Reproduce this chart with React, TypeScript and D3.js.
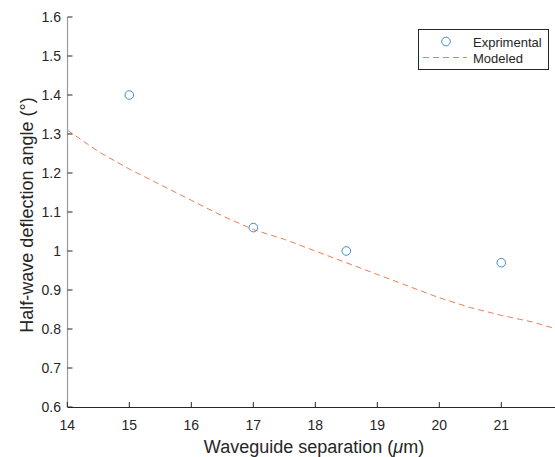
import React from "react";
import * as d3 from "d3";

const expX = [15, 17, 18.5, 21];
const expY = [1.4, 1.06, 1.0, 0.97];
const modX = [14, 14.5, 15, 15.5, 16, 16.5, 17, 17.5, 18, 18.5, 19, 19.5, 20, 20.5, 21, 21.5, 22];
const modY = [1.31, 1.255, 1.21, 1.17, 1.13, 1.09, 1.055, 1.03, 1.0, 0.97, 0.94, 0.91, 0.88, 0.855, 0.835, 0.818, 0.795];
const xTicks = [14, 15, 16, 17, 18, 19, 20, 21];
const yTicks = [0.6, 0.7, 0.8, 0.9, 1, 1.1, 1.2, 1.3, 1.4, 1.5, 1.6];

export default function App() {
  const x = d3.scaleLinear().domain([14, 22]).range([67.3, 563.3]);
  const y = d3.scaleLinear().domain([0.6, 1.6]).range([407, 17]);
  const line = d3.line<number>().x((_, i) => x(modX[i])).y((d) => y(d));
  const font = "'Liberation Sans', Arial, sans-serif";
  return (
    <svg width={555} height={457} style={{ position: "absolute", left: 0, top: 0 }} fontFamily={font}>
      <rect width={555} height={457} fill="#fff" />
      <path d={line(modY) || ""} fill="none" stroke="#ED7D52" strokeWidth={1} strokeDasharray="6,4" />
      {expX.map((v, i) => (
        <circle key={i} cx={x(v)} cy={y(expY[i])} r={4.3} fill="none" stroke="#3A8FD0" strokeWidth={1} />
      ))}
      <line x1={x(14)} x2={555} y1={407.5} y2={407.5} stroke="#262626" strokeWidth={1} />
      <line x1={67.5} x2={67.5} y1={17} y2={407.5} stroke="#9a9a9a" strokeWidth={1.2} />
      {xTicks.map((t) => (
        <g key={t}>
          <line x1={x(t)} x2={x(t)} y1={407} y2={402} stroke="#262626" />
          <text x={x(t)} y={430} textAnchor="middle" fontSize={14} fill="#262626">{t}</text>
        </g>
      ))}
      {yTicks.map((t) => (
        <g key={t}>
          <line x1={67.5} x2={72.5} y1={y(t)} y2={y(t)} stroke="#262626" />
          <text x={61} y={y(t) + 5} textAnchor="end" fontSize={14} fill="#262626">{t}</text>
        </g>
      ))}
      <text x={314} y={453} textAnchor="middle" fontSize={18} fill="#262626">
        Waveguide separation (<tspan fontStyle="italic">μ</tspan>m)
      </text>
      <text transform="translate(33,215) rotate(-90)" textAnchor="middle" fontSize={18} fill="#262626">
        Half-wave deflection angle (°)
      </text>
      <rect x={418.5} y={29.5} width={130} height={40} fill="#fff" stroke="#262626" strokeWidth={1} />
      <circle cx={446} cy={41.5} r={4.3} fill="none" stroke="#3A8FD0" strokeWidth={1} />
      <text x={473} y={46.5} fontSize={13} fill="#262626">Exprimental</text>
      <line x1={423} x2={467} y1={57.5} y2={57.5} stroke="#ED7D52" strokeDasharray="6,4" />
      <text x={473} y={62.5} fontSize={13} fill="#262626">Modeled</text>
    </svg>
  );
}
